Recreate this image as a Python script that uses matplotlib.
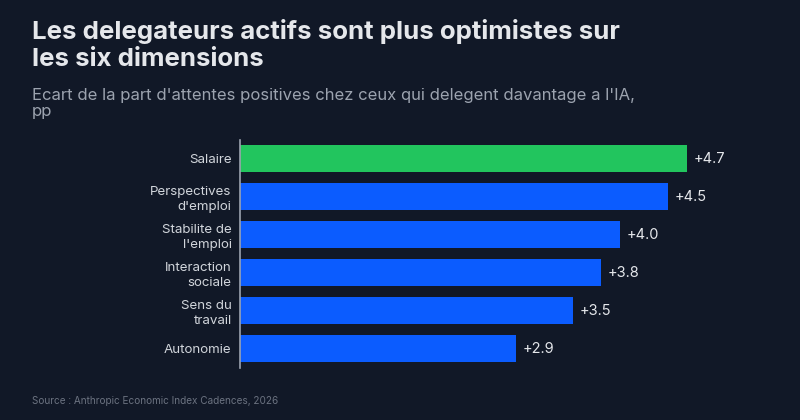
import matplotlib.pyplot as plt

categories = ["Salaire", "Perspectives\nd'emploi", "Stabilite de\nl'emploi",
              "Interaction\nsociale", "Sens du\ntravail", "Autonomie"]
values = [4.7, 4.5, 4.0, 3.8, 3.5, 2.9]
value_labels = ["+4.7", "+4.5", "+4.0", "+3.8", "+3.5", "+2.9"]

BG = "#111827"
GREEN = "#22c55e"
BLUE = "#0b5cff"

plt.rcParams['font.family'] = ['Inter', 'DejaVu Sans']

fig = plt.figure(figsize=(8, 4.2), dpi=100, facecolor=BG)
ax = fig.add_axes([0.30, 0.124, 0.65, 0.543])
ax.set_facecolor(BG)

colors = [GREEN] + [BLUE] * (len(values) - 1)
ypos = list(range(len(values)))
ax.barh(ypos, values, height=0.71, color=colors, zorder=2)

ax.set_ylim(len(values) - 0.5, -0.5)
ax.set_xlim(0, 5.47)

ax.set_yticks(ypos)
ax.set_yticklabels(categories, fontsize=9.6, color="#d1d5db", linespacing=1.3)
ax.tick_params(axis='y', length=0, pad=6)
ax.tick_params(axis='x', bottom=False, labelbottom=False)
for lbl in ax.get_yticklabels():
    lbl.set_horizontalalignment('right')
    lbl.set_multialignment('right')

for s in ['top', 'right', 'bottom']:
    ax.spines[s].set_visible(False)
ax.spines['left'].set_color('#9ca3af')
ax.spines['left'].set_linewidth(1.2)

for y, v, t in zip(ypos, values, value_labels):
    ax.text(v + 0.07, y, t, va='center', ha='left', fontsize=10.5, color='#e5e7eb')

fig.text(0.04, 1 - 19 / 420, "Les delegateurs actifs sont plus optimistes sur\nles six dimensions",
         fontsize=18.6, fontweight='bold', color='#e5e7eb', va='top', ha='left',
         linespacing=1.2)
fig.text(0.04, 1 - 88 / 420, "Ecart de la part d'attentes positives chez ceux qui delegent davantage a l'IA,\npp",
         fontsize=12, color='#9ca3af', va='top', ha='left', linespacing=1.1)
fig.text(0.04, 0.045, "Source : Anthropic Economic Index Cadences, 2026",
         fontsize=7.2, color='#6b7280', va='center', ha='left')

fig.savefig("out.png", dpi=100, facecolor=BG)
